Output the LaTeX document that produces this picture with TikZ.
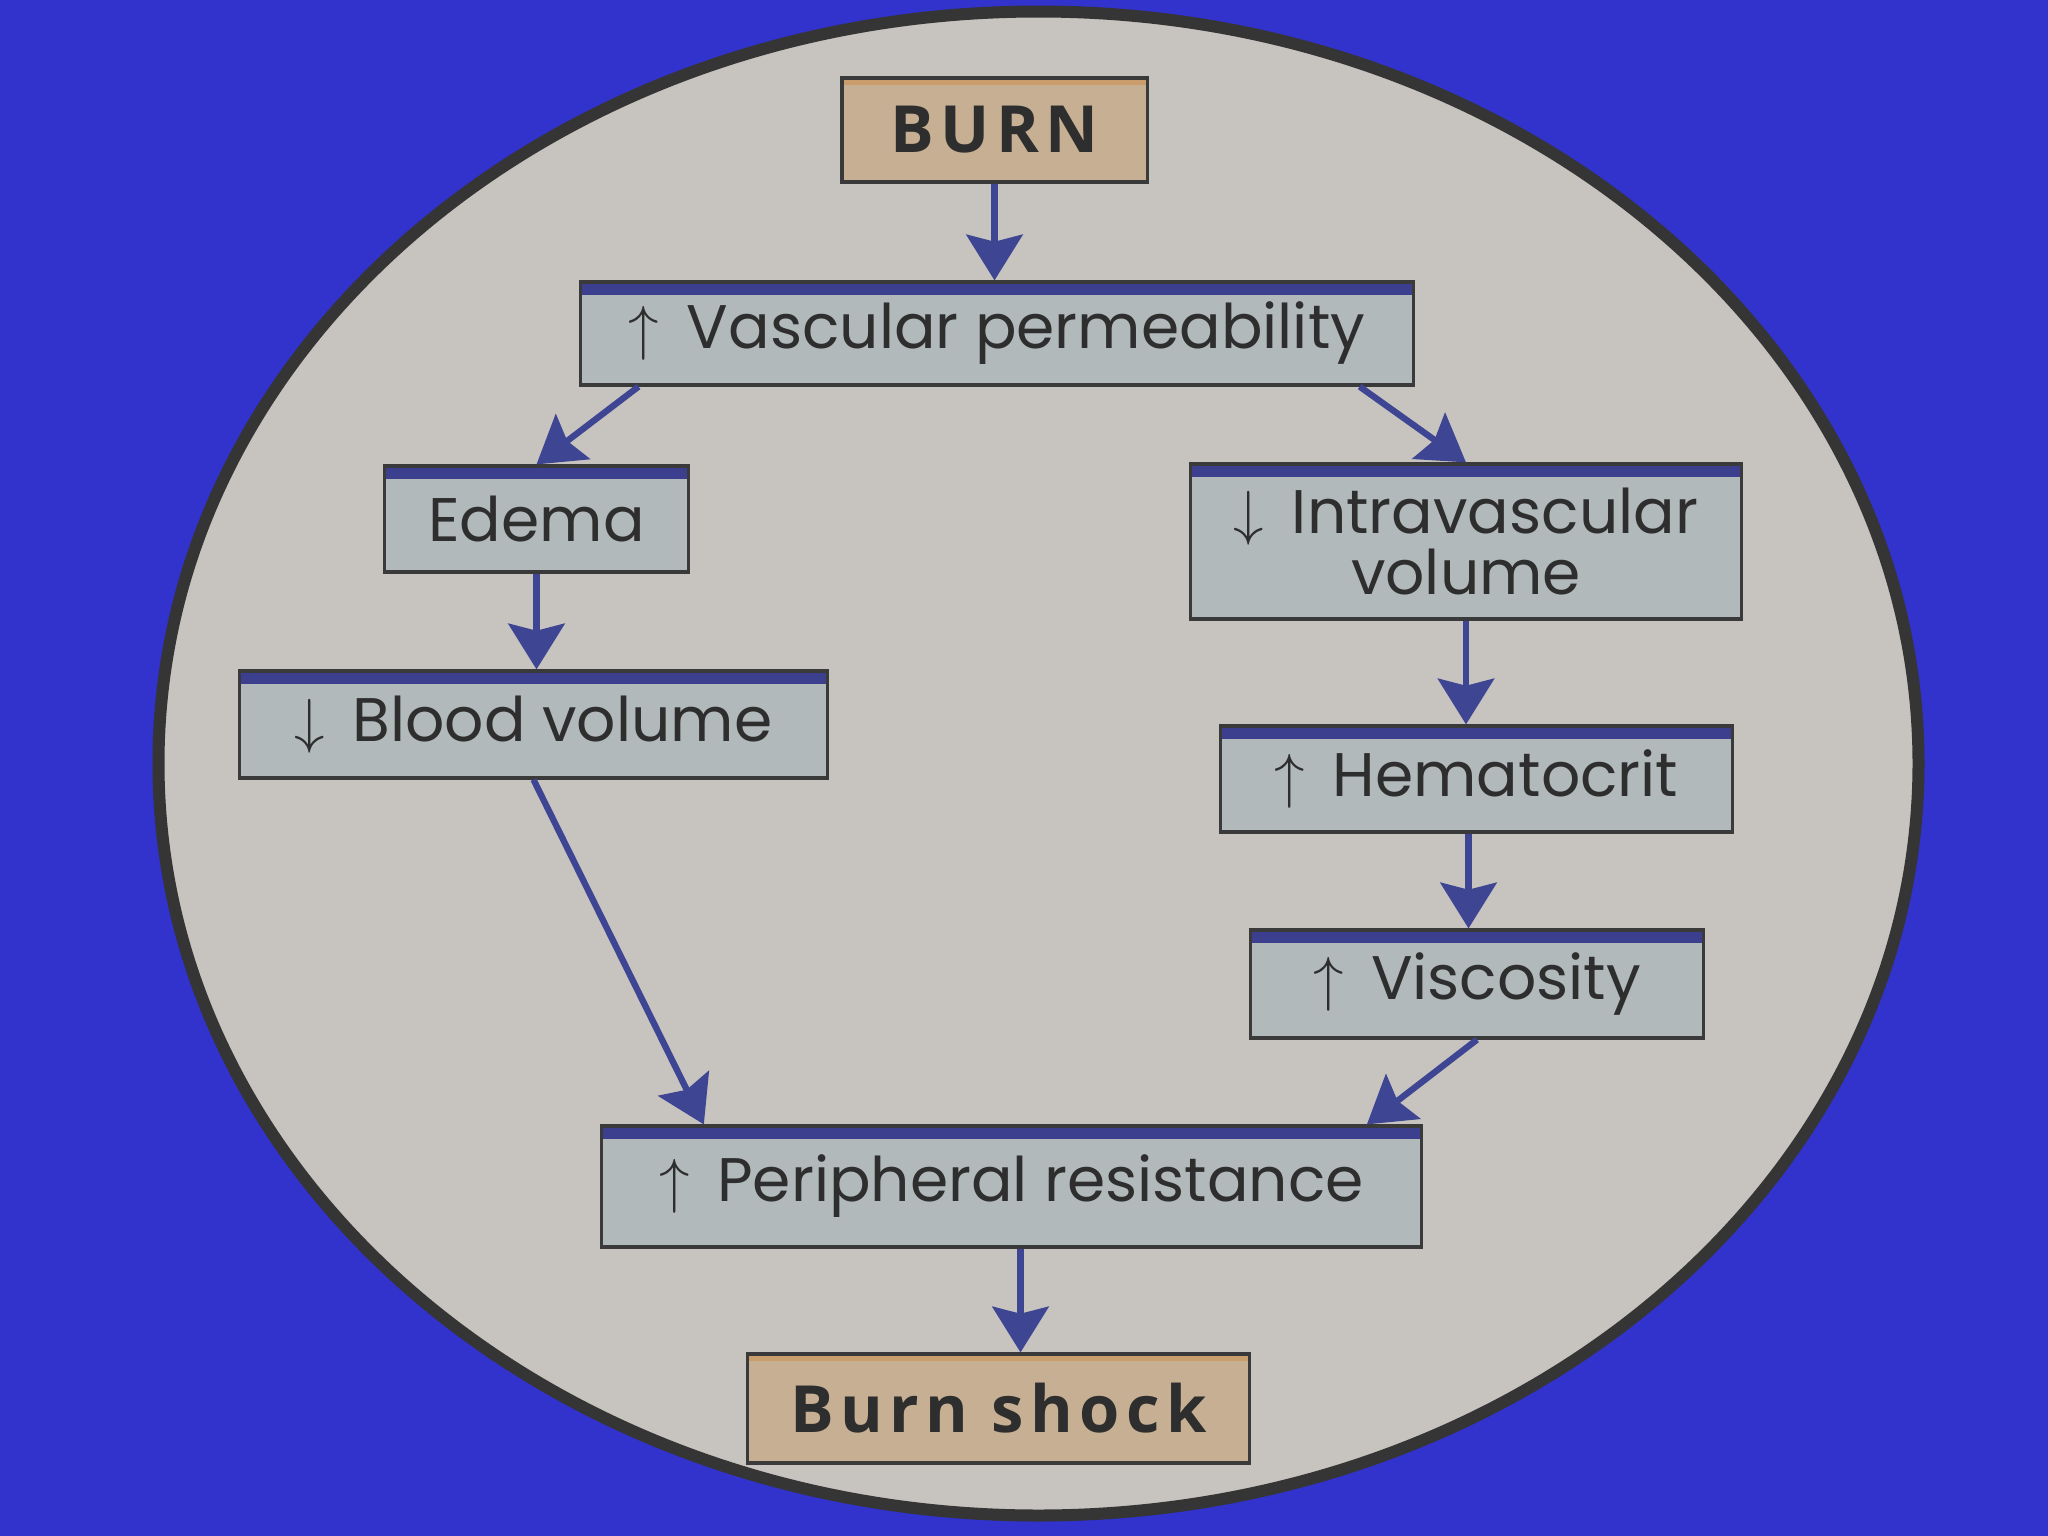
\documentclass[tikz,border=0pt]{standalone}
\usepackage{fontspec}
\setmainfont{Poppins}
\newfontfamily\headfont{Open Sans}[LetterSpace=10]
\usetikzlibrary{arrows.meta,calc}
\definecolor{bgblue}{HTML}{3232CC}
\definecolor{rimgray}{HTML}{353535}
\definecolor{paper}{HTML}{C7C3BF}
\definecolor{boxfill}{HTML}{B2B9BB}
\definecolor{boxline}{HTML}{3A3A3A}
\definecolor{barblue}{HTML}{3C3F8E}
\definecolor{tanfill}{HTML}{C6AF93}
\definecolor{tanbar}{HTML}{C99E6C}
\definecolor{ink}{HTML}{2E2E2E}
\definecolor{arrowblue}{HTML}{3E4693}
\tikzset{
  flowbox/.style={draw=boxline, line width=0.9pt, fill=boxfill, text=ink,
    font=\fontsize{17.5}{15.5}\selectfont, align=center, inner sep=0pt,
    path picture={\fill[barblue] (path picture bounding box.north west)
      rectangle ([yshift=-0.13cm]path picture bounding box.north east);}},
  endbox/.style={draw=boxline, line width=0.9pt, fill=tanfill, text=ink,
    font=\headfont\bfseries\fontsize{18.5}{20}\selectfont, align=center, inner sep=0pt,
    path picture={\fill[tanbar] (path picture bounding box.north west)
      rectangle ([yshift=-0.07cm]path picture bounding box.north east);}},
  flow/.style={draw=arrowblue, line width=1.8pt,
    -{Stealth[length=13pt, width=16pt, inset=2pt]}}
}
\newcommand{\upar}{$\uparrow$\hspace{0.45em}}
\newcommand{\dnar}{$\downarrow$\hspace{0.45em}}
\begin{document}
\begin{tikzpicture}[x=0.01cm, y=-0.01cm]
\fill[bgblue] (0,0) rectangle (2048,1536);
\useasboundingbox (0,0) rectangle (2048,1536);
\draw[rimgray, line width=0.12cm, fill=paper] (1038.5,763.5) ellipse [x radius=880, y radius=752];

\node[endbox, minimum width=3.05cm, minimum height=1.04cm] (burn) at (994.5,130) {BURN};
\node[flowbox, minimum width=8.32cm, minimum height=1.03cm] (vp) at (997,333.5) {\upar Vascular permeability};
\node[flowbox, minimum width=3.03cm, minimum height=1.06cm] (edema) at (536.5,519) {Edema};
\node[flowbox, minimum width=5.50cm, minimum height=1.55cm] (intra) at (1466,541.5) {\dnar Intravascular\\volume};
\node[flowbox, minimum width=5.87cm, minimum height=1.07cm] (blood) at (533.5,724.5) {\dnar Blood volume};
\node[flowbox, minimum width=5.11cm, minimum height=1.06cm] (hema) at (1476.5,779) {\upar Hematocrit};
\node[flowbox, minimum width=4.52cm, minimum height=1.08cm] (visc) at (1477,984) {\upar Viscosity};
\node[flowbox, minimum width=8.19cm, minimum height=1.21cm] (peri) at (1011.5,1186.5) {\upar Peripheral resistance};
\node[endbox, minimum width=5.01cm, minimum height=1.09cm] (shock) at (998.5,1408.5) {Burn shock};

\coordinate (hs) at ($(hema.south)+(-8,0)$);
\coordinate (ps) at ($(peri.south)+(9,0)$);
\draw[flow] (burn.south) -- (burn.south |- vp.north);
\draw[flow] ($(vp.south west)!0.071!(vp.south east)$) -- (edema.north);
\draw[flow] ($(vp.south west)!0.934!(vp.south east)$) -- (intra.north);
\draw[flow] (edema.south) -- (edema.south |- blood.north);
\draw[flow] (blood.south) -- ($(peri.north west)!0.126!(peri.north east)$);
\draw[flow] (intra.south) -- (intra.south |- hema.north);
\draw[flow] (hs) -- (hs |- visc.north);
\draw[flow] (visc.south) -- ($(peri.north west)!0.932!(peri.north east)$);
\draw[flow] (ps) -- (ps |- shock.north);
\end{tikzpicture}
\end{document}
